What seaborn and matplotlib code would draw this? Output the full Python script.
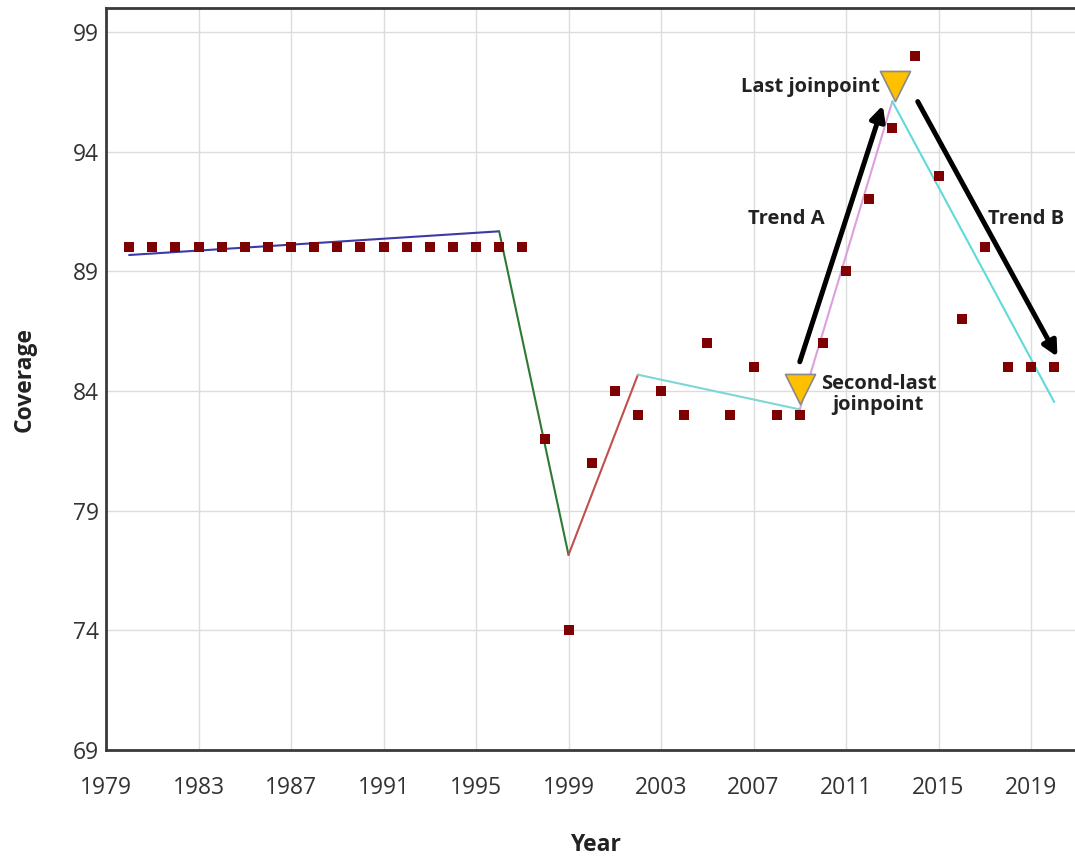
import pandas as pd
import seaborn as sns
import matplotlib
matplotlib.use("Agg")
import matplotlib.pyplot as plt

# observed coverage by year
years = [1980, 1981, 1982, 1983, 1984, 1985, 1986, 1987, 1988, 1989, 1990,
         1991, 1992, 1993, 1994, 1995, 1996, 1997, 1998, 1999, 2000, 2001,
         2002, 2003, 2004, 2005, 2006, 2007, 2008, 2009, 2010, 2011, 2012,
         2013, 2014, 2015, 2016, 2017, 2018, 2019, 2020]
coverage = [90, 90, 90, 90, 90, 90, 90, 90, 90, 90, 90,
            90, 90, 90, 90, 90, 90, 90, 82, 74, 81, 84,
            83, 84, 83, 86, 83, 85, 83, 83, 86, 89, 92,
            95, 98, 93, 87, 90, 85, 85, 85]

# joinpoint model (segment ends)
joint_years = [1980, 1996, 1999, 2002, 2009, 2013, 2020]
joint_fit = [89.68, 90.67, 77.15, 84.68, 83.23, 96.1, 83.54]
seg_colors = ["#3b3aa6", "#2e7a32", "#c0504d", "#7fd6d6", "#dda0dd", "#5fdada"]

# highlighted joinpoints (triangle markers)
marker_years = [2009.0, 2013.1]
marker_vals = [84.08, 96.75]

x_ticks = [1979, 1983, 1987, 1991, 1995, 1999, 2003, 2007, 2011, 2015, 2019]
y_ticks = [69, 74, 79, 84, 89, 94, 99]

rows = []
for i in range(len(joint_years) - 1):
    rows.append({"seg": i, "year": joint_years[i], "value": joint_fit[i]})
    rows.append({"seg": i, "year": joint_years[i + 1], "value": joint_fit[i + 1]})
seg_df = pd.DataFrame(rows)
obs_df = pd.DataFrame({"year": years, "coverage": coverage})

sns.set_theme(style="whitegrid")
plt.rcParams["font.family"] = ["Open Sans", "DejaVu Sans"]

fig = plt.figure(figsize=(10.75, 8.57), dpi=100)
ax = fig.add_axes([106 / 1075, 1 - 750 / 857, 1 - 106 / 1075, 742 / 857])

sns.lineplot(data=seg_df, x="year", y="value", hue="seg", palette=seg_colors,
             estimator=None, sort=False, legend=False, linewidth=1.5, ax=ax)
sns.scatterplot(data=obs_df, x="year", y="coverage", marker="s", color="#7f0000",
                s=50, linewidth=0, ax=ax, zorder=3)
sns.scatterplot(x=marker_years, y=marker_vals, marker="v", color="#ffc000",
                edgecolor="#8a8a8a", linewidth=1.2, s=470, ax=ax, zorder=4)

arrow = dict(arrowstyle="-|>", lw=3.6, color="black", mutation_scale=22,
             shrinkA=0, shrinkB=0)
ax.annotate("", xy=(2012.59, 95.93), xytext=(2009.0, 85.22), arrowprops=arrow)
ax.annotate("", xy=(2020.14, 85.43), xytext=(2014.1, 96.09), arrowprops=arrow)

txt = dict(fontsize=14.5, fontweight="bold", color="#222222")
ax.text(2012.45, 96.68, "Last joinpoint", ha="right", va="center", **txt)
ax.text(2008.4, 91.18, "Trend A", ha="center", va="center", **txt)
ax.text(2018.8, 91.18, "Trend B", ha="center", va="center", **txt)
ax.text(2012.4, 83.85, "Second-last\njoinpoint", ha="center", va="center",
        multialignment="center", linespacing=1.1, **txt)

ax.set_xlim(1979, 2020.9)
ax.set_ylim(69, 100)
ax.set_xticks(x_ticks)
ax.set_yticks(y_ticks)
ax.grid(True, color="#dcdcdc", linewidth=1)
ax.tick_params(axis="x", length=0, pad=19, labelsize=16.5, labelcolor="#333333")
ax.tick_params(axis="y", length=0, pad=5, labelsize=16.5, labelcolor="#333333")

for side in ["left", "bottom", "top"]:
    ax.spines[side].set_visible(True)
    ax.spines[side].set_color("#3a3a3a")
    ax.spines[side].set_linewidth(2)
ax.spines["right"].set_visible(False)

ax.set_xlabel("Year", fontsize=16.5, fontweight="bold", color="#222222")
ax.set_ylabel("Coverage", fontsize=16.5, fontweight="bold", color="#222222")
ax.xaxis.label.set_va("center")
ax.yaxis.label.set_va("center")
ax.xaxis.set_label_coords(0.505, (750 - 845) / 742)
ax.yaxis.set_label_coords((25 - 106) / 969, 0.5)

fig.savefig("out.png", dpi=100)
